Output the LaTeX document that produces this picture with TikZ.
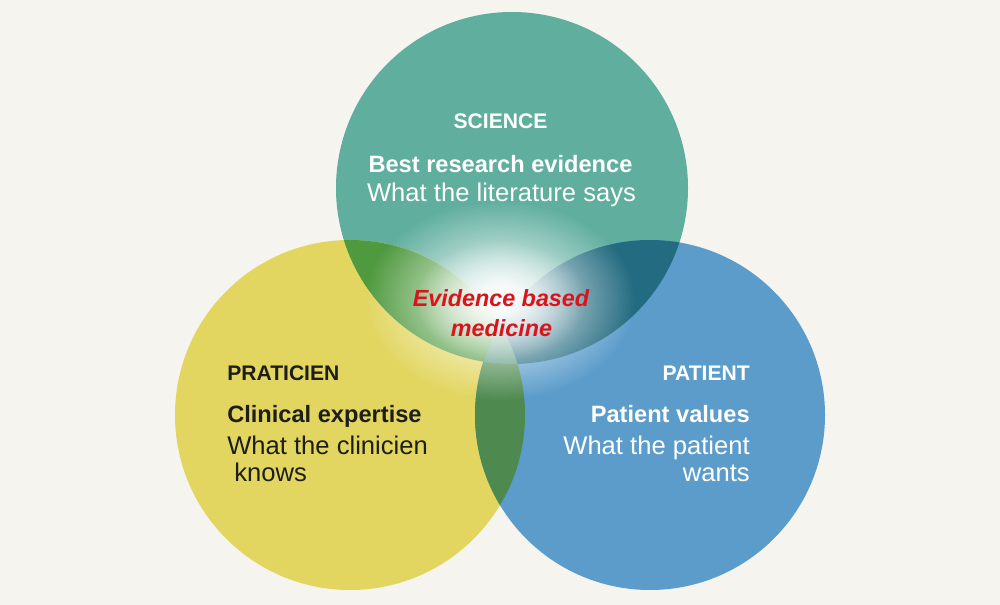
\documentclass[tikz,border=0pt]{standalone}
\usepackage{fontspec}
\setmainfont{Liberation Sans}
\usetikzlibrary{fadings}

\definecolor{bgcream}{HTML}{F5F4EE}
\definecolor{scienceteal}{HTML}{5FAE9E}
\definecolor{praticienyellow}{HTML}{E2D660}
\definecolor{patientblue}{HTML}{5B9CCB}
\definecolor{lensgreen}{HTML}{4F9A3F}
\definecolor{lensteal}{HTML}{236B80}
\definecolor{lensolive}{HTML}{4E8A50}
\definecolor{coremix}{HTML}{5A9A82}
\definecolor{ebmred}{HTML}{D9141C}
\definecolor{darktext}{HTML}{1E1E19}

\tikzfading[name=glowfade, inner color=transparent!0, outer color=transparent!100]

\tikzset{
  circlehead/.style={font=\bfseries\fontsize{15}{18}\selectfont, inner sep=0pt},
  circlesub/.style={font=\bfseries\fontsize{16.8}{20}\selectfont, inner sep=0pt},
  circlebody/.style={font=\fontsize{18.2}{22}\selectfont, inner sep=0pt},
  ebmtext/.style={font=\bfseries\itshape\fontsize{16.6}{20}\selectfont, text=ebmred, inner sep=0pt}
}

\begin{document}
\begin{tikzpicture}[x=0.025cm, y=0.025cm]
\fill[bgcream] (0,0) rectangle (1000,605);
\useasboundingbox (0,0) rectangle (1000,605);

% the three circles
\fill[scienceteal] (512,417) circle (176);
\fill[praticienyellow] (350,190) circle (175);
\fill[patientblue] (650,190) circle (175);

% overlaps
\begin{scope}
\clip (512,417) circle (176);
\fill[lensgreen] (350,190) circle (175);
\fill[lensteal] (650,190) circle (175);
\end{scope}
\begin{scope}
\clip (350,190) circle (175);
\fill[lensolive] (650,190) circle (175);
\end{scope}
\begin{scope}
\clip (512,417) circle (176);
\clip (350,190) circle (175);
\fill[coremix] (650,190) circle (175);
\end{scope}

% glow in the middle
\fill[white, path fading=glowfade] (500,305) ellipse (135 and 100);
\fill[white, path fading=glowfade, opacity=0.8] (500,305) ellipse (85 and 60);

% science
\node[circlehead, text=white, anchor=base] (science) at (500.5,476) {SCIENCE};
\node[circlesub, text=white, anchor=base] (sciencesub) at (500.5,432) {Best research evidence};
\node[circlebody, text=white, anchor=base] (sciencebody) at (501.5,403) {What the literature says};

% evidence based medicine
\node[ebmtext, anchor=base] (ebmtop) at (501,298) {Evidence based};
\node[ebmtext, anchor=base] (ebmbottom) at (501.5,268) {medicine};

% praticien
\node[circlehead, text=darktext, anchor=base west] (praticien) at (227,224) {PRATICIEN};
\node[circlesub, text=darktext, anchor=base west] (praticiensub) at (227,182) {Clinical expertise};
\node[circlebody, text=darktext, anchor=base west] (praticienbody) at (227,150) {What the clinicien};
\node[circlebody, text=darktext, anchor=base west] (praticienend) at (227,123) {\ knows};

% patient
\node[circlehead, text=white, anchor=base east] (patient) at (750,224) {PATIENT};
\node[circlesub, text=white, anchor=base east] (patientsub) at (750,182) {Patient values};
\node[circlebody, text=white, anchor=base east] (patientbody) at (750,150) {What the patient};
\node[circlebody, text=white, anchor=base east] (patientend) at (750,123) {wants};
\end{tikzpicture}
\end{document}
